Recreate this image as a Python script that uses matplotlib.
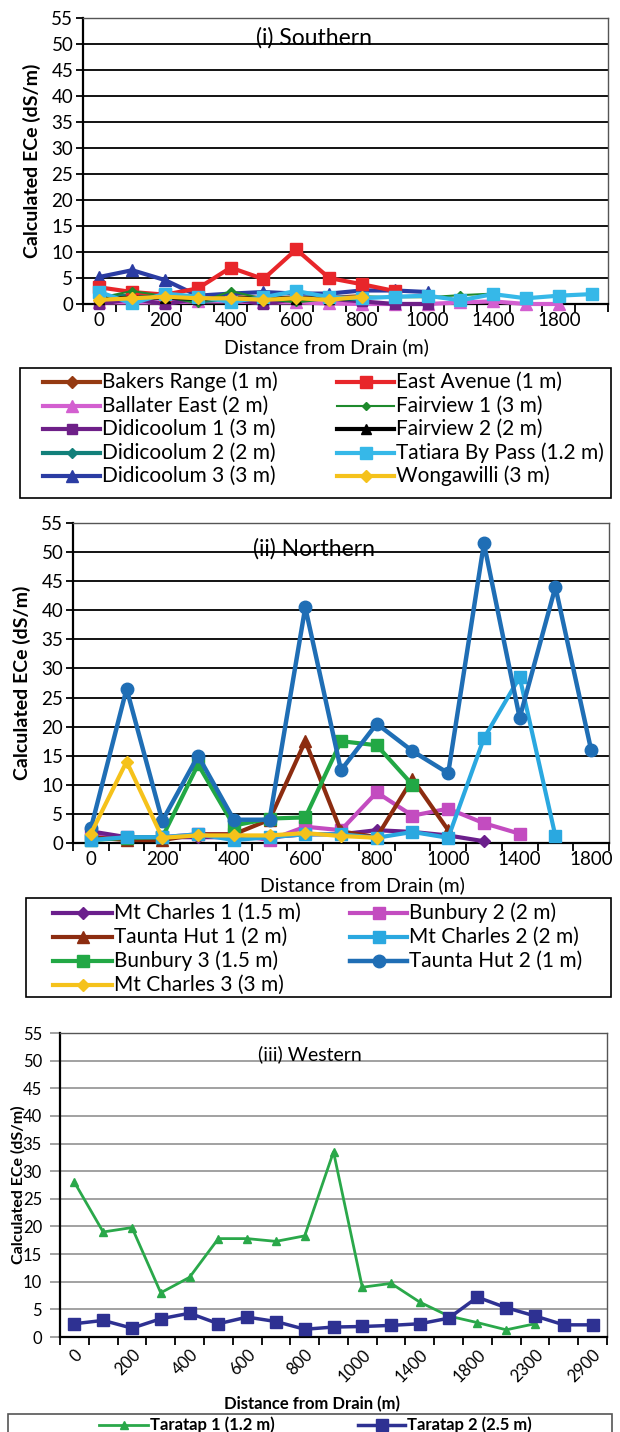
import numpy as np
import matplotlib
matplotlib.use("Agg")
import matplotlib.pyplot as plt
from matplotlib.lines import Line2D
from matplotlib.patches import Rectangle

plt.rcParams['font.family'] = ['Lato', 'DejaVu Sans']
nan = np.nan

# ---------------- data ----------------
cats1 = ["0", "100", "200", "300", "400", "500", "600", "700", "800", "900", "1000",
         "1200", "1400", "1600", "1800", "2000"]
bakers_range = [1.5, 1.5, 1.3, 1.5, 1.3, 1.2, 1.2, 1.2, 1.5]
ballater_east = [0.3, 0.3, 0.3, 0.5, 0.5, 0.3, 0.3, 0.1, 0.0, 0.0, 0.0, 0.3, 0.5, 0.0, 0.0]
didicoolum_1 = [0.0, 1.0, 0.0, 1.0, 1.0, 0.0, 1.0, 1.0, 0.5, 0.0, 0.0]
didicoolum_2 = [1.5, 1.5, 1.5, 0.5, 1.0, 1.0, 1.0, 1.0, 1.0]
didicoolum_3 = [5.2, 6.5, 4.6, 1.6, 2.0, 2.3, 2.0, 2.0, 2.6, 2.6, 2.3]
east_avenue = [3.2, 2.3, 1.8, 3.0, 7.0, 4.8, 10.5, 5.0, 3.8, 2.5]
fairview_1 = [1.2, 2.5, 1.5, 0.1, 2.5, 1.0, 0.3, 1.0, 1.5, 1.3, 1.3, 1.7, 2.0]
fairview_2 = [1.0, 1.2, 1.2, 1.0, 1.0, 1.0, 1.0, 1.0, 1.2]
tatiara = [2.3, 0.1, 2.0, 1.4, 0.4, 1.3, 2.5, 1.3, 1.1, 1.4, 1.6, 0.7, 1.9, 1.1, 1.6, 1.9]
wongawilli = [0.8, 1.1, 1.4, 1.1, 1.1, 0.8, 1.1, 0.8, 1.4]

cats2 = ["0", "100", "200", "300", "400", "500", "600", "700", "800", "900", "1000",
         "1200", "1400", "1600", "1800"]
mt_charles_1 = [2.0, 1.0, 1.0, 1.0, 1.0, 1.0, 1.5, 1.5, 2.2, 1.9, 1.3, 0.3]
taunta_hut_1 = [1.0, 0.5, 0.5, 1.5, 1.5, 4.0, 17.5, 2.0, 1.0, 11.0, 2.2]
bunbury_3 = [0.5, 0.9, 1.0, 13.5, 3.0, 4.2, 4.4, 17.5, 16.8, 10.0]
mt_charles_3 = [1.6, 14.0, 0.9, 1.3, 1.3, 1.3, 1.7, 1.2, 0.9]
bunbury_2 = [1.5, 1.0, 1.0, 1.5, 1.5, 0.5, 2.8, 2.2, 8.7, 4.7, 5.9, 3.4, 1.6]
mt_charles_2 = [0.5, 1.0, 1.0, 1.5, 0.5, 1.0, 1.5, 1.5, 0.9, 1.9, 0.9, 18.0, 28.5, 1.2]
taunta_hut_2 = [2.5, 26.5, 3.8, 15.0, 4.0, 4.0, 40.5, 12.5, 20.5, 15.8, 12.0, 51.5, 21.5, 44.0, 16.0]

cats3 = ["0", "100", "200", "300", "400", "500", "600", "700", "800", "900", "1000",
         "1200", "1400", "1600", "1800", "2100", "2300", "2600", "2900"]
taratap_1 = [28.0, 19.0, 19.8, 8.0, 10.8, 17.8, 17.8, 17.3, 18.3, 33.5, 9.0, 9.7, 6.3,
             3.8, 2.6, 1.3, 2.4]
taratap_2 = [2.4, 3.0, 1.6, 3.3, 4.3, 2.4, 3.6, 2.8, 1.4, 1.8, 1.9, 2.1, 2.4, 3.4, 7.2,
             5.3, 3.8, 2.2, 2.2]

yticks = [0, 5, 10, 15, 20, 25, 30, 35, 40, 45, 50, 55]

W, H = 620, 1432
fig = plt.figure(figsize=(W / 100, H / 100), dpi=100)


def fx(px):
    return px / W


def fy(py):
    return 1 - py / H


def setup_axes(ax, cats, grid_color, fs, rot=0, ylen=5, ypad=2, xpad=6):
    n = len(cats)
    ax.set_xlim(-0.5, n - 0.5)
    ax.set_ylim(0, 55)
    ax.set_yticks(yticks)
    ax.set_yticklabels([str(v) for v in yticks], fontsize=fs)
    ax.set_xticks(range(0, n, 2))
    ax.set_xticklabels([cats[i] for i in range(0, n, 2)], fontsize=fs, rotation=rot,
                       ha='right' if rot else 'center',
                       rotation_mode='anchor' if rot else 'default')
    ax.set_xticks(np.arange(-0.5, n, 1.0), minor=True)
    ax.tick_params(axis='x', which='major', length=0, pad=xpad)
    ax.tick_params(axis='x', which='minor', length=6, width=1.3, direction='out', color='black')
    ax.tick_params(axis='y', which='major', length=ylen, width=1.3, pad=ypad, color=grid_color)
    for y in yticks[1:]:
        ax.axhline(y, color=grid_color, lw=1.3, zorder=0)
    for s in ax.spines.values():
        s.set_color('#555555')
        s.set_linewidth(1.0)
    ax.spines['left'].set_color('black')
    ax.spines['left'].set_linewidth(1.6)
    ax.spines['bottom'].set_color('black')
    ax.spines['bottom'].set_linewidth(1.6)


def plot_series(ax, vals, color, marker, ms, lw, label):
    x = np.arange(len(vals))
    ax.plot(x, vals, color=color, marker=marker, ms=ms, lw=lw,
            mec=color, mfc=color, label=label, clip_on=False, zorder=3)


def legend_entry(x0, x1, y, style, text, fs, weight='normal'):
    vals, color, marker, ms, lw, label = style
    ln = Line2D([fx(x0), fx(x1)], [fy(y), fy(y)], transform=fig.transFigure,
                color=color, lw=lw, marker=None)
    mk = Line2D([fx((x0 + x1) / 2)], [fy(y)], transform=fig.transFigure,
                color=color, marker=marker, ms=ms, mec=color, mfc=color, lw=0)
    fig.add_artist(ln)
    fig.add_artist(mk)
    fig.text(fx(x1 + 2), fy(y), text, fontsize=fs, fontweight=weight,
             ha='left', va='center')


def legend_box(x0, y0, x1, y1, color='black', lw=1.2):
    fig.add_artist(Rectangle((fx(x0), fy(y1)), fx(x1) - fx(x0), fy(y0) - fy(y1),
                             transform=fig.transFigure, fill=False,
                             edgecolor=color, lw=lw, clip_on=False))


# ---------- panel 1 ----------
ax1 = fig.add_axes([fx(83), fy(304), fx(608) - fx(83), fy(18) - fy(304)])
setup_axes(ax1, cats1, 'black', 13.5)
s1 = [
    (bakers_range, '#953a12', 'D', 6, 3.0, "Bakers Range (1 m)"),
    (ballater_east, '#d35fd0', '^', 8, 3.0, "Ballater East (2 m)"),
    (didicoolum_1, '#6e2088', 's', 7, 3.0, "Didicoolum 1 (3 m)"),
    (didicoolum_2, '#12807a', 'D', 5, 3.0, "Didicoolum 2 (2 m)"),
    (didicoolum_3, '#2b3ca3', '^', 9, 3.0, "Didicoolum 3 (3 m)"),
    (east_avenue, '#e8262a', 's', 9, 3.0, "East Avenue (1 m)"),
    (fairview_1, '#1e8a2c', 'D', 4, 1.5, "Fairview 1 (3 m)"),
    (fairview_2, '#000000', '^', 7, 3.0, "Fairview 2 (2 m)"),
    (tatiara, '#36b8e8', 's', 9, 3.0, "Tatiara By Pass (1.2 m)"),
    (wongawilli, '#f5c21b', 'D', 6, 3.0, "Wongawilli (3 m)"),
]
for s in s1:
    plot_series(ax1, *s)
ax1.set_ylabel("Calculated ECe (dS/m)", fontsize=14, fontweight='bold', va='center')
ax1.yaxis.set_label_coords((32 - 83) / 525, 0.5)
ax1.set_xlabel("Distance from Drain (m)", fontsize=14, va='center')
ax1.xaxis.set_label_coords(0.463, (304 - 347) / 286)
ax1.text(0.44, 0.93, "(i) Southern", transform=ax1.transAxes, fontsize=16.5,
         ha='center', va='center')

legend_box(20, 368, 611, 498)
rows1 = [382, 405.5, 429, 452.5, 476]
for i, s in enumerate(s1):
    col, row = divmod(i, 5)
    if col == 0:
        legend_entry(43, 100, rows1[row], s, s[5], 15)
    else:
        legend_entry(337, 394, rows1[row], s, s[5], 15)

# ---------- panel 2 ----------
ax2 = fig.add_axes([fx(73), fy(843), fx(609) - fx(73), fy(523) - fy(843)])
setup_axes(ax2, cats2, 'black', 13.5)
s2 = [
    (mt_charles_1, '#6b1f8c', 'D', 6, 3.0, "Mt Charles 1 (1.5 m)"),
    (taunta_hut_1, '#8c2c10', '^', 8, 3.0, "Taunta Hut 1 (2 m)"),
    (bunbury_3, '#22a845', 's', 8, 3.0, "Bunbury 3 (1.5 m)"),
    (mt_charles_3, '#f5c21b', 'D', 6, 3.0, "Mt Charles 3 (3 m)"),
    (bunbury_2, '#c34cc0', 's', 9, 3.0, "Bunbury 2 (2 m)"),
    (mt_charles_2, '#2aa8e0', 's', 9, 3.0, "Mt Charles 2 (2 m)"),
    (taunta_hut_2, '#1f6eb5', 'o', 9, 3.2, "Taunta Hut 2 (1 m)"),
]
draw_order2 = [4, 0, 1, 2, 5, 6, 3]
for i in draw_order2:
    plot_series(ax2, *s2[i])
ax2.set_ylabel("Calculated ECe (dS/m)", fontsize=14, fontweight='bold', va='center')
ax2.yaxis.set_label_coords((22 - 73) / 536, 0.5)
ax2.set_xlabel("Distance from Drain (m)", fontsize=14, va='center')
ax2.xaxis.set_label_coords((362 - 73) / 536, (843 - 885) / 320)
ax2.text(0.45, 0.92, "(ii) Northern", transform=ax2.transAxes, fontsize=16.5,
         ha='center', va='center')

legend_box(26, 898, 611, 997)
rows2 = [913, 937, 961, 985]
for i, s in enumerate(s2):
    if i < 4:
        legend_entry(53, 112, rows2[i], s, s[5], 15)
    else:
        legend_entry(350, 407, rows2[i - 4], s, s[5], 15)

# ---------- panel 3 ----------
ax3 = fig.add_axes([fx(60), fy(1337), fx(607) - fx(60), fy(1033) - fy(1337)])
setup_axes(ax3, cats3, '#9a9a9a', 12, rot=45, ylen=7, ypad=6, xpad=7)
s3 = [
    (taratap_1, '#2aa84a', '^', 6, 2.0, "Taratap 1 (1.2 m)"),
    (taratap_2, '#2e3192', 's', 8, 2.5, "Taratap 2 (2.5 m)"),
]
for s in s3:
    plot_series(ax3, *s)
ax3.set_ylabel("Calculated ECe (dS/m)", fontsize=11.5, fontweight='bold', va='center')
ax3.yaxis.set_label_coords((18 - 60) / 547, 0.5)
ax3.set_xlabel("Distance from Drain (m)", fontsize=12, fontweight='bold', va='center')
ax3.xaxis.set_label_coords((312 - 60) / 547, (1337 - 1404) / 304)
ax3.text(0.456, 0.93, "(iii) Western", transform=ax3.transAxes, fontsize=14,
         ha='center', va='center')

legend_box(8, 1414, 612, 1445, color='#555555')
legend_entry(99, 148, 1425, s3[0], s3[0][5], 12, weight='bold')
legend_entry(358, 405, 1425, s3[1], s3[1][5], 12, weight='bold')

fig.savefig("out.png", dpi=100)
